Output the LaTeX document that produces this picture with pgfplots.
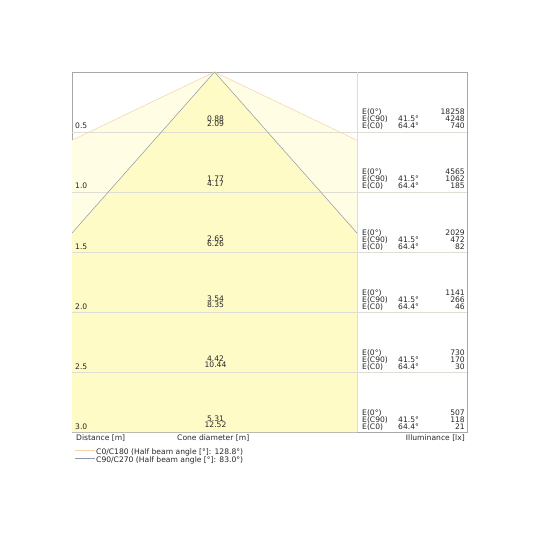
\documentclass[border=0pt]{standalone}
\usepackage{pgfplots}
\pgfplotsset{compat=1.18}
\usepackage{pgfplotstable}
\usepackage{fontspec}
\setmainfont{DejaVu Sans}

\definecolor{lightcone}{HTML}{FFFDE3}
\definecolor{innercone}{HTML}{FFFBC6}
\definecolor{cOline}{HTML}{F0D2A8}
\definecolor{cNline}{HTML}{8E96A8}
\definecolor{frame}{HTML}{A8A8A8}
\definecolor{gridc}{HTML}{DEDED4}

% distance, cone diameters (C90, C0), illuminance E(0), E(C90), E(C0)
\pgfplotstableread{
d   c90  c0    e0    e90  ec0
0.5 0.88 2.09  18258 4248 740
1.0 1.77 4.17  4565  1062 185
1.5 2.65 6.26  2029  472  82
2.0 3.54 8.35  1141  266  46
2.5 4.42 10.44 730   170  30
3.0 5.31 12.52 507   118  21
}\rows

\pgfplotsset{
  lbl/.style={draw=none, mark=none, forget plot, nodes near coords,
    every node near coord/.append style={inner sep=0pt, text=black!85, #1}},
  symlbl/.style={lbl={#1}, point meta=explicit symbolic},
}

\begin{document}
\begin{tikzpicture}[font=\fontsize{7.6pt}{8pt}\selectfont]
\path[use as bounding box] (0,0) rectangle (540pt,540pt);
\begin{axis}[
  at={(72pt,108pt)}, anchor=south west,
  scale only axis, width=395pt, height=360pt,
  xmin=-1.1875, xmax=2.1042, ymin=0, ymax=3,
  y dir=reverse, clip=false,
  axis line style={frame},
  xtick=\empty, ytick=\empty,
  legend style={at={(0,0)}, anchor=north west, xshift=3pt, yshift=-16pt,
    draw=none, fill=none, inner sep=0pt, row sep=0pt,
    nodes={inner sep=0.5pt, text height=5.5pt, text depth=1.5pt, text=black!85}},
  legend cell align=left,
  legend image code/.code={\draw[#1] (0pt,2pt) -- (20pt,2pt);},
]
% cone areas
\addplot[fill=lightcone, draw=none, forget plot] coordinates {
  (0,0) (-1.1875,0.569) (-1.1875,3) (1.1875,3) (1.1875,0.569)} -- cycle;
\addplot[fill=innercone, draw=none, forget plot] coordinates {
  (0,0) (-1.1875,1.342) (-1.1875,3) (1.1875,3) (1.1875,1.342)} -- cycle;
% distance lines
\addplot[gridc, line width=0.4pt, forget plot] coordinates {(-1.1875,0.5) (2.1042,0.5)};
\addplot[gridc, line width=0.4pt, forget plot] coordinates {(-1.1875,1.0) (2.1042,1.0)};
\addplot[gridc, line width=0.4pt, forget plot] coordinates {(-1.1875,1.5) (2.1042,1.5)};
\addplot[gridc, line width=0.4pt, forget plot] coordinates {(-1.1875,2.0) (2.1042,2.0)};
\addplot[gridc, line width=0.4pt, forget plot] coordinates {(-1.1875,2.5) (2.1042,2.5)};
% divider between cone and table
\addplot[gridc, line width=0.5pt, forget plot] coordinates {(1.1875,0) (1.1875,3)};
% beam edges
\addplot[cOline, line width=0.5pt] coordinates {(-1.1875,0.569) (0,0) (1.1875,0.569)};
\addlegendentry{C0/C180 (Half beam angle [°]: 128.8°)}
\addplot[cNline, line width=0.5pt] coordinates {(-1.1875,1.342) (0,0) (1.1875,1.342)};
\addlegendentry{C90/C270 (Half beam angle [°]: 83.0°)}

% distance labels
\addplot[symlbl={anchor=base west, xshift=3pt, yshift=3pt}]
  table[x expr=-1.1875, y=d, meta=d] {\rows};
% cone diameters
\addplot[symlbl={anchor=base, xshift=1pt, yshift=10.5pt}]
  table[x expr=0, y=d, meta=c90] {\rows};
\addplot[symlbl={anchor=base, xshift=1pt, yshift=5pt}]
  table[x expr=0, y=d, meta=c0] {\rows};
% illuminance table
\addplot[lbl={anchor=base west, xshift=5pt, yshift=17pt}, nodes near coords={E(0°)}]
  table[x expr=1.1875, y=d] {\rows};
\addplot[lbl={anchor=base west, xshift=5pt, yshift=10pt}, nodes near coords={E(C90)}]
  table[x expr=1.1875, y=d] {\rows};
\addplot[lbl={anchor=base west, xshift=5pt, yshift=3pt}, nodes near coords={E(C0)}]
  table[x expr=1.1875, y=d] {\rows};
\addplot[lbl={anchor=base west, xshift=41pt, yshift=10pt}, nodes near coords={41.5°}]
  table[x expr=1.1875, y=d] {\rows};
\addplot[lbl={anchor=base west, xshift=41pt, yshift=3pt}, nodes near coords={64.4°}]
  table[x expr=1.1875, y=d] {\rows};
\addplot[symlbl={anchor=base east, xshift=-2pt, yshift=17pt}]
  table[x expr=2.1042, y=d, meta=e0] {\rows};
\addplot[symlbl={anchor=base east, xshift=-2pt, yshift=10pt}]
  table[x expr=2.1042, y=d, meta=e90] {\rows};
\addplot[symlbl={anchor=base east, xshift=-2pt, yshift=3pt}]
  table[x expr=2.1042, y=d, meta=ec0] {\rows};

\node[anchor=base west, inner sep=0pt, text=black!85] at (axis description cs:0,0) [xshift=4pt, yshift=-8pt] {Distance [m]};
\node[anchor=base west, inner sep=0pt, text=black!85] at (axis description cs:0,0) [xshift=105pt, yshift=-8pt] {Cone diameter [m]};
\node[anchor=base east, inner sep=0pt, text=black!85] at (axis description cs:1,0) [xshift=-2pt, yshift=-8pt] {Illuminance [lx]};
\end{axis}
\end{tikzpicture}
\end{document}
